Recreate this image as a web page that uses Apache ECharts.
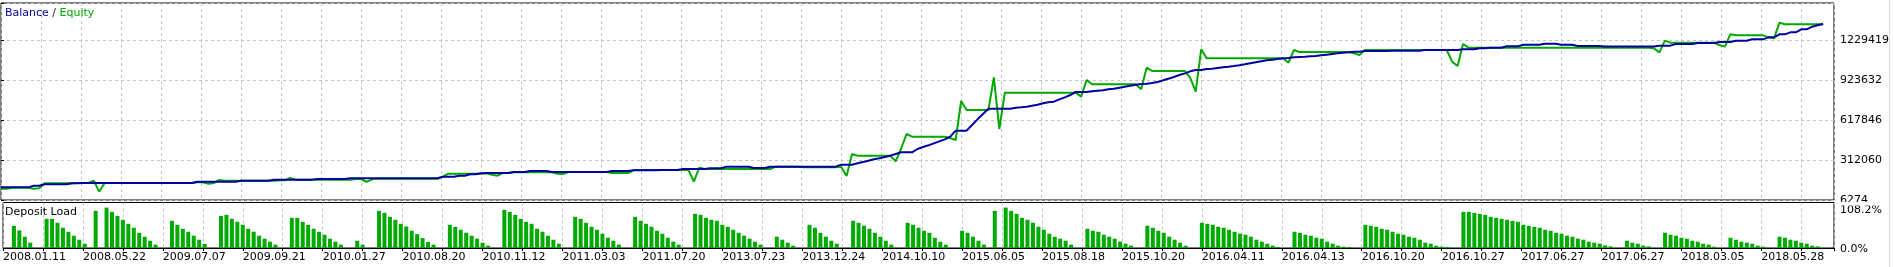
<!DOCTYPE html>
<html><head><meta charset="utf-8">
<script src="https://cdn.jsdelivr.net/npm/echarts@6/dist/echarts.min.js"></script>
<style>html,body{margin:0;padding:0;background:#fff;overflow:hidden}#c{width:1894px;height:267px}</style>
</head><body><div id="c"></div>
<script>
// ---- data ----
const dateLabels = ['2008.01.11','2008.05.22','2009.07.07','2009.09.21','2010.01.27','2010.08.20','2010.11.12','2011.03.03','2011.07.20','2013.07.23','2013.12.24','2014.10.10','2015.06.05','2015.08.18','2015.10.20','2016.04.11','2016.04.13','2016.10.20','2016.10.27','2017.06.27','2017.06.27','2018.03.05','2018.05.28'];
const yTickLabels = ['6274','312060','617846','923632','1229419'];
const loadTickLabels = ['0.0%','108.2%'];

// balance, thousands (one value per trade point)
const balanceK = [
103.1,103.1,103.1,103.1,103.1,103.1,115.8,115.8,126.0,126.0,
126.0,126.0,126.0,133.7,133.7,136.2,136.2,136.2,136.2,136.2,
136.2,136.2,136.2,136.2,136.2,136.2,136.2,136.2,136.2,136.2,
136.2,136.2,136.2,136.2,136.2,136.2,146.4,146.4,146.4,146.4,
146.4,146.4,146.4,146.4,154.1,154.1,154.1,154.1,154.1,154.1,
161.7,161.7,161.7,161.7,161.7,161.7,161.7,161.7,166.8,166.8,
166.8,166.8,166.8,166.8,173.0,173.0,173.0,173.0,173.0,173.0,
173.0,173.0,173.0,173.0,173.0,173.0,173.0,173.0,173.0,173.0,
173.0,184.6,184.6,184.6,192.3,192.3,202.5,202.5,210.2,212.7,
212.7,212.7,212.7,212.7,220.3,220.3,220.3,228.0,228.0,228.0,
228.0,220.3,220.3,220.3,220.3,220.3,220.3,220.3,220.3,220.3,
220.3,220.3,228.0,228.0,228.0,228.0,233.1,233.1,233.1,233.1,
233.1,235.6,235.6,235.6,235.6,243.3,243.3,243.3,243.3,243.3,
248.4,248.4,248.4,261.1,261.1,261.1,261.1,261.1,250.9,250.9,
250.9,261.1,261.1,261.1,261.1,261.1,261.1,261.1,261.1,261.1,
261.1,261.1,261.1,261.1,276.4,276.4,276.4,286.6,296.8,307.0,
317.2,324.8,335.0,345.2,357.9,370.7,370.7,370.7,396.2,411.4,
424.2,439.5,454.7,470.0,490.4,536.3,536.3,536.3,579.6,622.9,
663.7,704.4,704.4,704.4,704.4,704.4,712.1,714.6,719.7,727.4,
735.0,745.2,752.9,758.0,775.8,791.1,808.9,831.9,831.9,831.9,
837.0,842.1,844.6,852.3,857.4,865.0,872.6,880.3,887.9,893.1,
895.6,900.7,908.3,921.1,933.8,946.6,961.9,974.6,989.9,1000.1,
1000.1,1007.7,1010.2,1015.4,1020.5,1025.5,1030.6,1035.8,1043.4,1051.1,
1058.7,1066.4,1074.0,1079.1,1084.2,1089.3,1091.8,1096.9,1099.5,1102.0,
1104.6,1107.1,1112.2,1117.3,1122.4,1127.5,1132.6,1135.1,1140.2,1140.2,
1145.3,1145.3,1145.3,1145.3,1145.3,1147.9,1147.9,1147.9,1147.9,1147.9,
1147.9,1153.0,1153.0,1153.0,1153.0,1153.0,1153.0,1153.0,1158.1,1158.1,
1158.1,1165.7,1165.7,1170.8,1170.8,1170.8,1181.0,1181.0,1181.0,1193.7,
1193.7,1193.7,1193.7,1201.4,1201.4,1201.4,1193.7,1193.7,1193.7,1183.6,
1183.6,1183.6,1183.6,1183.6,1180.0,1180.0,1180.0,1180.0,1180.0,1180.0,
1180.0,1180.0,1180.0,1180.0,1186.1,1186.1,1186.1,1198.8,1198.8,1198.8,
1198.8,1206.5,1206.5,1206.5,1206.5,1214.1,1214.1,1214.1,1224.3,1224.3,
1224.3,1234.5,1234.5,1234.5,1249.8,1249.8,1272.7,1272.7,1288.0,1288.0,
1310.9,1310.9,1331.3,1341.5,1351.7
];

// equity, thousands
const equityK = [
93.0,93.0,100.5,100.5,100.5,100.5,93.0,95.5,133.7,133.7,
133.7,133.7,133.7,133.7,136.2,136.2,136.2,154.1,70.0,136.2,
136.2,136.2,136.2,136.2,136.2,136.2,136.2,136.2,136.2,136.2,
136.2,136.2,136.2,136.2,136.2,136.2,141.3,141.3,131.1,136.2,
159.2,154.1,154.1,154.1,154.1,154.1,154.1,154.1,154.1,154.1,
154.1,156.6,156.6,174.5,161.7,161.7,161.7,161.7,161.7,161.7,
161.7,161.7,161.7,161.7,161.7,166.8,166.8,144.1,164.2,168.0,
168.0,168.0,168.0,168.0,168.0,168.0,168.0,168.0,168.0,168.0,
168.0,184.6,207.5,207.5,207.5,207.5,207.5,207.5,207.5,210.2,
200.0,192.3,212.7,212.7,217.8,217.8,217.8,217.8,217.8,217.8,
217.8,217.8,207.5,205.0,220.3,220.3,220.3,220.3,220.3,220.3,
220.3,220.3,212.7,212.7,212.7,212.7,235.6,235.6,235.6,235.6,
235.6,235.6,235.6,235.6,235.6,235.6,235.6,146.4,253.4,243.3,
243.3,243.3,243.3,243.3,243.3,243.3,243.3,243.3,243.3,243.3,
243.3,243.3,261.1,261.1,261.1,261.1,261.1,256.0,256.0,256.0,
256.0,256.0,256.0,256.0,261.1,189.7,357.9,345.2,345.2,345.2,
345.2,345.2,345.2,345.2,302.0,400.0,510.8,490.4,490.4,490.4,
490.4,490.4,490.4,490.4,480.0,465.0,763.1,694.3,694.3,694.3,
694.3,694.3,944.0,549.0,826.8,826.8,826.8,826.8,826.8,826.8,
826.8,826.8,826.8,826.8,826.8,826.8,826.8,826.8,796.2,923.6,
890.5,890.5,890.5,890.5,890.5,890.5,890.5,890.5,890.5,852.3,
1017.9,992.4,992.4,992.4,992.4,992.4,992.4,992.4,940.0,834.4,
1158.1,1089.3,1089.3,1089.3,1089.3,1089.3,1089.3,1089.3,1089.3,1089.3,
1089.3,1089.3,1089.3,1089.3,1089.3,1089.3,1056.1,1153.0,1137.7,1137.7,
1137.7,1137.7,1137.7,1137.7,1137.7,1137.7,1137.7,1137.7,1127.5,1114.7,
1153.0,1153.0,1153.0,1153.0,1153.0,1153.0,1153.0,1153.0,1153.0,1153.0,
1153.0,1153.0,1153.0,1153.0,1153.0,1153.0,1063.8,1030.6,1198.8,1170.8,
1170.8,1170.8,1170.8,1170.8,1170.8,1170.8,1170.8,1170.8,1170.8,1170.8,
1170.8,1170.8,1170.8,1170.8,1170.8,1170.8,1170.8,1170.8,1170.8,1170.8,
1170.8,1170.8,1170.8,1170.8,1170.8,1170.8,1170.8,1170.8,1170.8,1170.8,
1170.8,1170.8,1170.8,1165.7,1135.1,1224.3,1209.0,1209.0,1209.0,1209.0,
1209.0,1209.0,1209.0,1209.0,1209.0,1191.2,1178.5,1272.7,1265.1,1265.1,
1265.1,1265.1,1265.1,1265.1,1249.8,1242.2,1361.8,1349.2,1349.2,1349.2,
1349.2,1349.2,1349.2,1349.2,1349.2
];

// deposit load, percent
const depositLoad = [
0,0,59.5,47.1,30.2,14.2,0,0,78.1,78.1,
67.5,54.2,43.5,32.9,22.2,11.5,0,99.5,0,108.2,
96.8,86.1,75.5,64.8,54.2,40.8,30.2,19.5,8.9,0,
0,72.8,62.2,51.5,43.5,32.9,22.2,10.7,0,0,
86.1,88.8,78.1,70.2,62.2,51.5,43.5,32.9,24.9,16.9,
8.9,0,0,80.8,80.8,70.2,62.2,51.5,43.5,35.5,
24.9,16.9,8.9,0,0,19.5,8.9,0,0,99.5,
94.1,83.5,75.5,64.8,57.7,46.2,37.3,26.6,16.0,8.9,
0,0,62.2,56.8,48.8,40.8,32.9,24.9,14.2,6.2,
0,0,102.1,96.8,88.8,78.1,70.2,64.8,51.5,43.5,
32.9,22.2,11.5,0,0,83.5,78.1,67.5,56.8,48.8,
38.2,27.5,19.5,8.9,0,0,83.5,72.8,64.8,56.8,
46.2,38.2,27.5,16.9,8.9,0,0,91.5,88.8,80.8,
75.5,72.8,62.2,56.8,48.8,40.8,32.9,24.9,16.9,8.9,
0,0,30.2,22.2,14.2,6.2,0,0,62.2,54.2,
40.8,30.2,19.5,11.5,0,0,72.8,67.5,59.5,51.5,
40.8,30.2,19.5,8.9,0,0,67.5,62.2,54.2,46.2,
40.8,27.5,16.9,8.9,0,0,46.2,40.8,30.2,19.5,
8.9,0,99.5,0,108.2,99.5,91.5,80.8,75.5,67.5,
56.8,48.8,38.2,30.2,24.9,19.5,8.9,0,0,51.5,
46.2,43.5,35.5,30.2,24.9,16.9,11.5,6.2,0,0,
59.5,54.2,46.2,40.8,30.2,22.2,14.2,6.2,0,0,
67.5,64.8,62.2,56.8,54.2,48.8,43.5,38.2,35.5,30.2,
22.2,16.9,11.5,6.2,2.7,0,0,43.5,40.8,35.5,
32.9,27.5,24.9,16.9,11.5,6.2,3.6,2.7,0,0,
62.2,59.5,56.8,51.5,48.8,43.5,38.2,35.5,30.2,27.5,
22.2,14.2,11.5,6.2,3.6,2.7,0,0,96.8,96.8,
94.1,91.5,88.8,83.5,80.8,78.1,75.5,72.8,70.2,62.2,
59.5,56.8,54.2,48.8,46.2,40.8,38.2,32.9,30.2,24.9,
22.2,16.9,14.2,11.5,7.1,4.4,0,0,19.5,14.2,
11.5,6.2,4.4,0,0,40.8,35.5,32.9,27.5,24.9,
19.5,16.9,11.5,8.9,3.6,0,0,27.5,22.2,16.9,
14.2,11.5,6.2,3.6,0,0,30.2,27.5,22.2,19.5,
14.2,11.5,6.2,4.4,0
];

// ---- axis setup ----
const FONT = 'DejaVu Sans';
const X_MAX = 336;            // trade-point axis extent
const X_STEP = 22 / 3;        // grid step in trade points
const Y_MIN = 6.274, Y_STEP = 305.78625;
const Y_MAX = Y_MIN + Y_STEP * 197 / 40;
const LOAD_STEP = 108.2;
const LOAD_MAX = 108.2 * 45.5 / 40.4;

const BLUE = '#0000a0', GREEN = '#00aa00';
const gridLine = { show: true, lineStyle: { color: '#c4c4c4', type: [3, 3], width: 1 } };

const chart = echarts.init(document.getElementById('c'), null, { renderer: 'canvas' });
chart.setOption({
  animation: false,
  backgroundColor: '#fff',
  title: [
    { text: '{b|Balance} {s|/} {e|Equity}', left: 5, top: 7, padding: 0,
      textStyle: { fontFamily: FONT, fontSize: 11, fontWeight: 'normal', lineHeight: 13,
        rich: { b: { color: BLUE, fontFamily: FONT, fontSize: 11 }, s: { color: '#222', fontFamily: FONT, fontSize: 11 }, e: { color: GREEN, fontFamily: FONT, fontSize: 11 } } } },
    { text: 'Deposit Load', left: 5, top: 206, padding: 0,
      textStyle: { fontFamily: FONT, fontSize: 11, fontWeight: 'normal', color: '#000', lineHeight: 13 } }
  ],
  grid: [
    { left: 1, top: 3, width: 1833, height: 197, show: true, borderColor: '#000', borderWidth: 1, backgroundColor: 'transparent' },
    { left: 1, top: 202.5, width: 1833, height: 45.5, show: true, borderColor: '#000', borderWidth: 1, backgroundColor: 'transparent' }
  ],
  xAxis: [
    { gridIndex: 0, type: 'value', min: 0, max: X_MAX, interval: X_STEP,
      axisLine: { show: false }, axisTick: { show: false }, axisLabel: { show: false }, splitLine: gridLine },
    { gridIndex: 1, type: 'value', min: 0, max: X_MAX, interval: X_STEP,
      axisLine: { show: true, lineStyle: { color: '#000', width: 1 } },
      axisTick: { show: true, length: 3, lineStyle: { color: '#000' } },
      axisLabel: { show: true, align: 'left', margin: 4, fontFamily: FONT, fontSize: 11, color: '#000',
        showMinLabel: true, showMaxLabel: true, hideOverlap: false,
        formatter: v => { const k = Math.round(v / X_STEP); return (k % 2 === 0 && k / 2 < dateLabels.length) ? dateLabels[k / 2] : ''; } },
      splitLine: gridLine }
  ],
  yAxis: [
    { gridIndex: 0, type: 'value', position: 'right', min: Y_MIN, max: Y_MAX, interval: Y_STEP,
      axisLine: { show: false },
      axisTick: { show: true, length: 3, lineStyle: { color: '#000' } },
      axisLabel: { show: true, margin: 6, fontFamily: FONT, fontSize: 11, color: '#000',
        showMinLabel: true, showMaxLabel: true,
        formatter: v => { const k = (v - Y_MIN) / Y_STEP; const r = Math.round(k); return (Math.abs(k - r) < 1e-6 && r < yTickLabels.length) ? yTickLabels[r] : ''; } },
      splitLine: gridLine },
    { gridIndex: 1, type: 'value', position: 'right', min: 0, max: LOAD_MAX, interval: LOAD_STEP,
      axisLine: { show: false }, axisTick: { show: false }, splitLine: { show: false },
      axisLabel: { show: true, margin: 6, fontFamily: FONT, fontSize: 11, color: '#000',
        showMinLabel: true, showMaxLabel: true,
        formatter: v => { const k = v / LOAD_STEP; const r = Math.round(k); if (Math.abs(k - r) > 1e-6 || r >= loadTickLabels.length) return ''; return r === 0 ? '{z|' + loadTickLabels[0] + '}' : '{m|' + loadTickLabels[r] + '}'; },
        rich: { z: { fontFamily: FONT, fontSize: 11, color: '#000', padding: [2, 0, 0, 0] },
                m: { fontFamily: FONT, fontSize: 11, color: '#000', padding: [6, 0, 0, 0] } } } }
  ],
  series: [
    { name: 'Equity', type: 'line', xAxisIndex: 0, yAxisIndex: 0, showSymbol: false, symbol: 'none', z: 2,
      lineStyle: { color: GREEN, width: 2 }, data: equityK.map((v, i) => [i, v]) },
    { name: 'Balance', type: 'line', xAxisIndex: 0, yAxisIndex: 0, showSymbol: false, symbol: 'none', z: 3,
      lineStyle: { color: BLUE, width: 2 }, data: balanceK.map((v, i) => [i, v]) },
    { name: 'Deposit Load', type: 'bar', xAxisIndex: 1, yAxisIndex: 1, barWidth: 4,
      itemStyle: { color: GREEN }, data: depositLoad.map((v, i) => [i, v]) }
  ],
  graphic: [
    { type: 'rect', z: 100, shape: { x: 1835, y: 202, width: 59, height: 3.5 }, style: { fill: '#fff' } },
    { type: 'line', z: 100, shape: { x1: 1889.5, y1: 0, x2: 1889.5, y2: 267 }, style: { stroke: '#dcdcdc', lineWidth: 1 } }
  ]
});
</script>
</body></html>
